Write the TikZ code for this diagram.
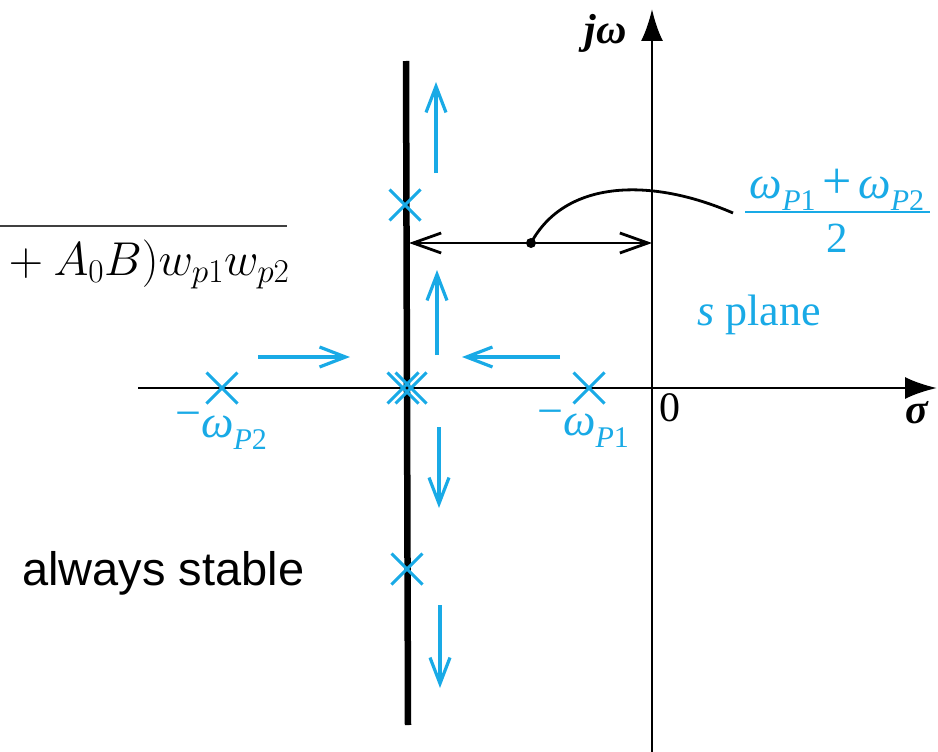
\RequirePackage{fix-cm}
\documentclass[tikz,border=0pt]{standalone}
\usepackage{fontspec}
\setmainfont{Liberation Serif}
\newfontfamily\sansf{Liberation Sans}
\usetikzlibrary{arrows.meta,shapes.misc}
\definecolor{cy}{RGB}{25,170,230}
\newcommand\fsz[1]{\fontsize{#1}{#1}\selectfont}
\newcommand\wsub[1]{{\fsz{46}\textit{ω}}\raisebox{-0.3em}{\fsz{30}\textit{P}#1}}
\begin{document}
\begin{tikzpicture}[x=1pt,y=-1pt,
  pole/.style={cross out, draw=cy, line width=3pt, minimum size=28pt, inner sep=0pt},
  cyarrow/.style={draw=cy, line width=3.2pt, -{Straight Barb[length=26pt,width=20pt]}},
  axis/.style={line width=2.8pt, -{Latex[length=32pt,width=22pt]}},
  lbl/.style={inner sep=0pt, font=\fsz{40}},
  cylbl/.style={lbl, text=cy}]
\useasboundingbox (0,0) rectangle (938,752);
% cut-off formula at top left
\draw[line width=2.2pt, black!75] (0,226) -- (287,226);
\node[anchor=base west, inner sep=0pt, font=\fsz{47.5}] (formula) at (-2,275) {${}+A_0B)w_{p1}w_{p2}$};
\node[anchor=base west, inner sep=0pt, font=\sansf\fsz{47}] (stable) at (22,585) {always stable};
% axes
\coordinate (xs) at (138,388);
\coordinate (xe) at (937,388);
\coordinate (ys) at (652,752);
\coordinate (ye) at (652,9);
\draw[axis] (xs) -- (xe);
\draw[axis] (ys) -- (ye);
\node[lbl, font=\fsz{42}\bfseries\itshape] (jw) at (606,33) {jω};
\node[lbl, font=\fsz{42}\bfseries\itshape] (sig) at (917,413) {σ};
\node[lbl, font=\fsz{42}] (zero) at (670,408) {0};
% thick root-locus line
\coordinate (lt) at (406,61);
\coordinate (lb) at (408,725);
\draw[line width=6.5pt] (lt) -- (lb);
% poles
\node[pole] (pu) at (405,205) {};
\node[pole] (pc1) at (403,388) {};
\node[pole] (pc2) at (411,388) {};
\node[pole] (pd) at (407,569) {};
\node[pole] (p2) at (222,388) {};
\node[pole] (p1) at (589,388) {};
\node[cylbl] (lp2) at (221,431) {\raisebox{0.22em}{\fsz{46}−}\wsub{2}};
\node[cylbl] (lp1) at (583,429) {\raisebox{0.22em}{\fsz{46}−}\wsub{1}};
% cyan arrows
\coordinate (u1a) at (436,173); \coordinate (u1b) at (436,82);
\coordinate (u2a) at (437,355); \coordinate (u2b) at (437,270);
\coordinate (la) at (560,357); \coordinate (lb2) at (462,357);
\coordinate (ra) at (258,357); \coordinate (rb) at (350,357);
\coordinate (d1a) at (439,427); \coordinate (d1b) at (439,508);
\coordinate (d2a) at (440,605); \coordinate (d2b) at (440,688);
\draw[cyarrow] (u1a) -- (u1b);
\draw[cyarrow] (u2a) -- (u2b);
\draw[cyarrow] (la) -- (lb2);
\draw[cyarrow] (ra) -- (rb);
\draw[cyarrow] (d1a) -- (d1b);
\draw[cyarrow] (d2a) -- (d2b);
% distance arrow
\coordinate (dl) at (409,243);
\coordinate (dr) at (652,243);
\draw[line width=2.8pt, {Straight Barb[length=28pt,width=20pt]}-{Straight Barb[length=28pt,width=20pt]}] (dl) -- (dr);
\node[circle, fill, inner sep=0pt, minimum size=10pt] (dot) at (531,243) {};
% fraction label
\node[cylbl, anchor=base] (num) at (837,198) {\wsub{1}\,{\fsz{52}+}\,\wsub{2}};
\node[cylbl, anchor=base, font=\fsz{43}] (den) at (837,252) {2};
\coordinate (fl) at (745,212);
\coordinate (fr) at (930,212);
\draw[cy, line width=2.4pt] (fl) -- (fr);
\coordinate (cend) at (733,213);
\draw[line width=2.8pt] (dot.center) .. controls (565,180) and (650,177) .. (cend);
\node[cylbl, anchor=base west, font=\fsz{44}] (splane) at (697,325) {\textit{s} plane};
\end{tikzpicture}
\end{document}
